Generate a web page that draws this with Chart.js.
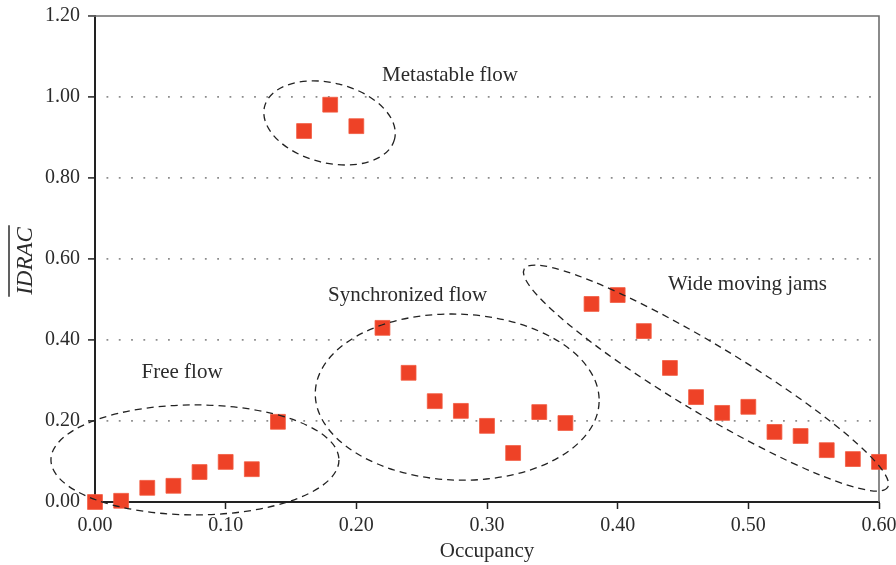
<!DOCTYPE html>
<html lang="en">
<head>
  <meta charset="UTF-8">
  <title>IDRAC vs Occupancy</title>
  <style>
    body { margin: 0; background: #fff; }
    #wrap { width: 896px; height: 565px; position: relative; }
  </style>
</head>
<body>
  <div id="wrap">
    <canvas id="grafico"></canvas>
  </div>

  <script src="https://cdn.jsdelivr.net/npm/chart.js"></script>
  <script>
    const occupancy = [0.00, 0.02, 0.04, 0.06, 0.08, 0.10, 0.12, 0.14, 0.16, 0.18, 0.20,
                       0.22, 0.24, 0.26, 0.28, 0.30, 0.32, 0.34, 0.36, 0.38, 0.40,
                       0.42, 0.44, 0.46, 0.48, 0.50, 0.52, 0.54, 0.56, 0.58, 0.60];
    const idrac = [0.000, 0.003, 0.035, 0.040, 0.074, 0.099, 0.081, 0.198, 0.916, 0.981, 0.928,
                   0.430, 0.319, 0.249, 0.225, 0.188, 0.121, 0.222, 0.195, 0.489, 0.511,
                   0.422, 0.331, 0.259, 0.220, 0.235, 0.173, 0.163, 0.128, 0.106, 0.099];
    const xTicks = [0, 0.1, 0.2, 0.3, 0.4, 0.5, 0.6];
    const yTicks = [0, 0.2, 0.4, 0.6, 0.8, 1.0, 1.2];

    const regionNames = ["Free flow", "Synchronized flow", "Metastable flow", "Wide moving jams"];

    // regions: ellipse centre and label anchor in data units, radii in px
    const regiones = [
      { cx: 0.0765, cy: 0.104, rx: 144, ry: 55, rot: 0,  lx: 0.0666, ly: 0.306 },
      { cx: 0.2772, cy: 0.259, rx: 142, ry: 83, rot: 2,  lx: 0.2392, ly: 0.496 },
      { cx: 0.1795, cy: 0.936, rx: 67,  ry: 40, rot: 14, lx: 0.2717, ly: 1.040 },
      { cx: 0.4676, cy: 0.306, rx: 212, ry: 34, rot: 31, lx: 0.4993, ly: 0.524 }
    ];

    const SERIF = "'Liberation Serif', 'Times New Roman', serif";
    const INK = "#2b2b2b";
    Chart.defaults.font.family = SERIF;
    Chart.defaults.color = INK;

    const marcoPlugin = {
      id: "marco",
      beforeDatasetsDraw(chart) {
        const { ctx, chartArea: a } = chart;
        ctx.save();
        ctx.strokeStyle = "#6e6e6e";
        ctx.lineWidth = 1.6;
        ctx.beginPath();
        ctx.moveTo(a.left - 7, a.top);
        ctx.lineTo(a.right, a.top);
        ctx.lineTo(a.right, a.bottom);
        ctx.stroke();
        ctx.restore();
      },
      afterDatasetsDraw(chart) {
        const { ctx, scales: { x, y } } = chart;
        ctx.save();
        ctx.strokeStyle = "#222";
        ctx.lineWidth = 1.3;
        ctx.setLineDash([7, 5]);
        regiones.forEach(r => {
          ctx.beginPath();
          ctx.ellipse(x.getPixelForValue(r.cx), y.getPixelForValue(r.cy), r.rx, r.ry,
            r.rot * Math.PI / 180, 0, Math.PI * 2);
          ctx.stroke();
        });
        ctx.setLineDash([]);
        ctx.fillStyle = INK;
        ctx.font = "21px " + SERIF;
        ctx.textAlign = "center";
        ctx.textBaseline = "alphabetic";
        regiones.forEach((r, i) => {
          ctx.fillText(regionNames[i], x.getPixelForValue(r.lx), y.getPixelForValue(r.ly));
        });

        // y axis title with overline
        const cy = (chart.chartArea.top + chart.chartArea.bottom) / 2;
        ctx.translate(32, cy + 2);
        ctx.rotate(-Math.PI / 2);
        ctx.font = "italic 23px " + SERIF;
        ctx.textBaseline = "alphabetic";
        ctx.fillText("IDRAC", 0, 0);
        const w = ctx.measureText("IDRAC").width;
        ctx.strokeStyle = INK;
        ctx.lineWidth = 1.5;
        ctx.beginPath();
        ctx.moveTo(-w / 2 - 2, -23);
        ctx.lineTo(w / 2 + 2, -23);
        ctx.stroke();
        ctx.restore();
      }
    };

    const lienzo = document.getElementById("grafico");
    new Chart(lienzo, {
      type: "scatter",
      data: {
        datasets: [{
          label: "IDRAC",
          data: occupancy.map((o, i) => ({ x: o, y: idrac[i] })),
          pointStyle: "rect",
          pointRadius: 10.5,
          pointHoverRadius: 10.5,
          backgroundColor: "#ee4227",
          borderColor: "#f25a40",
          borderWidth: 0.8,
          clip: false
        }]
      },
      options: {
        responsive: true,
        maintainAspectRatio: false,
        animation: false,
        events: [],
        layout: { padding: { top: 16, right: 17, left: 0, bottom: 0 } },
        plugins: { legend: { display: false }, tooltip: { enabled: false } },
        scales: {
          x: {
            type: "linear",
            min: 0, max: 0.6,
            afterFit(s) {
              s.height = 63;
              s.paddingLeft = 0;
              s.paddingRight = 0;
            },
            afterBuildTicks(s) { s.ticks = xTicks.map(v => ({ value: v })); },
            ticks: {
              callback: v => v.toFixed(2),
              font: { size: 20 },
              color: INK,
              padding: 5,
              maxRotation: 0
            },
            grid: { drawOnChartArea: false, tickLength: 7, tickColor: "#222", tickWidth: 1.5 },
            border: { color: "#222", width: 2 },
            title: {
              display: true,
              text: "Occupancy",
              font: { size: 21 },
              color: INK,
              padding: { top: 0, bottom: 1 }
            }
          },
          y: {
            type: "linear",
            min: 0, max: 1.2,
            afterFit(s) {
              s.width = 95;
              s.paddingTop = 0;
              s.paddingBottom = 0;
            },
            afterBuildTicks(s) { s.ticks = yTicks.map(v => ({ value: v })); },
            ticks: {
              callback: v => v.toFixed(2),
              font: { size: 20 },
              color: INK,
              padding: 8
            },
            grid: {
              color: c => (c.tick && c.tick.value > 0.01 && c.tick.value < 1.19) ? "#8c8c8c" : "rgba(0,0,0,0)",
              lineWidth: 1.8,
              tickLength: 7,
              tickColor: "#222",
              tickWidth: 1.5
            },
            border: { color: "#222", width: 2, dash: [1.8, 10.5], dashOffset: 1.8 }
          }
        }
      },
      plugins: [marcoPlugin]
    });
  </script>
</body>
</html>
